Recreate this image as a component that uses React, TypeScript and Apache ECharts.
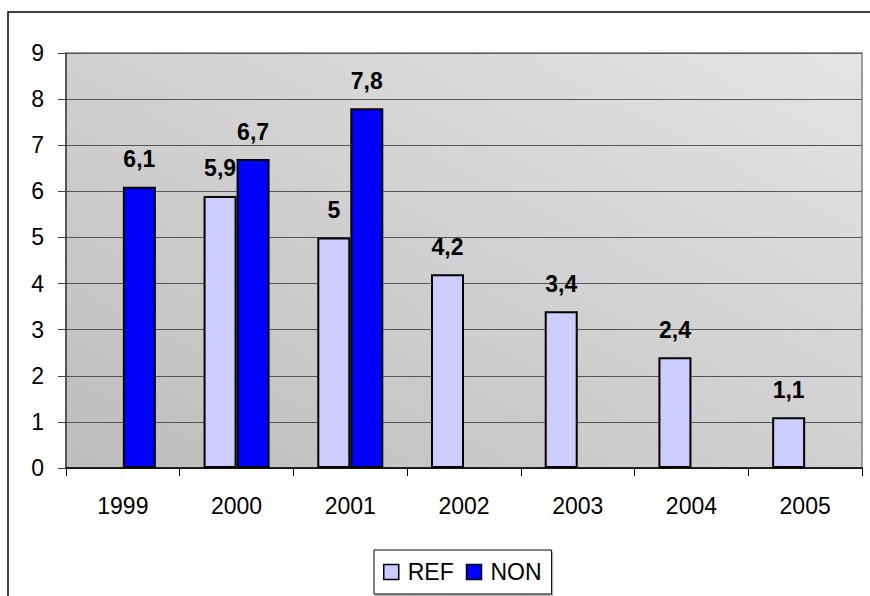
import React, { useEffect, useRef } from "react";
import * as echarts from "echarts";

const categories = ["1999", "2000", "2001", "2002", "2003", "2004", "2005"];
const refValues = [null, 5.9, 5, 4.2, 3.4, 2.4, 1.1];
const nonValues = [6.1, 6.7, 7.8, null, null, null, null];
const yMin = 0;
const yMax = 9;
const yInterval = 1;

const fmt = (v: any) => String(v).replace(".", ",");

export default function App() {
  const ref = useRef<HTMLDivElement>(null);
  useEffect(() => {
    const chart = echarts.init(ref.current!, null, { renderer: "svg" });
    const font = "Arial, 'Liberation Sans', sans-serif";
    const labelCfg = {
      show: true,
      position: "top",
      distance: 16,
      fontFamily: font,
      fontSize: 23,
      fontWeight: "bold",
      color: "#000",
      formatter: (p: any) => fmt(p.value),
    };
    chart.setOption({
      animation: false,
      graphic: [
        {
          type: "rect",
          shape: { x: 8, y: 12, width: 900, height: 700 },
          style: { fill: "#fff", stroke: "#000", lineWidth: 1.5 },
          z: -10,
          silent: true,
        },
      ],
      grid: {
        left: 66,
        top: 53,
        right: 8,
        bottom: 128,
        show: true,
        borderColor: "#808080",
        borderWidth: 1.5,
        backgroundColor: new echarts.graphic.LinearGradient(0, 1, 1, 0, [
          { offset: 0, color: "#bdbdbd" },
          { offset: 1, color: "#e4e4e4" },
        ]),
      },
      legend: {
        data: ["REF", "NON"],
        left: 374,
        top: 550,
        padding: [10, 10, 10, 9],
        itemGap: 12,
        itemWidth: 15,
        itemHeight: 15,
        icon: "rect",
        borderColor: "#000",
        borderWidth: 1,
        backgroundColor: "#fff",
        shadowColor: "rgba(0,0,0,0.25)",
        shadowOffsetX: 1,
        shadowOffsetY: 2,
        itemStyle: { borderColor: "#000", borderWidth: 1.5 },
        textStyle: { fontFamily: font, fontSize: 23, lineHeight: 24, color: "#000", padding: [0, 0, 0, 4] },
      },
      xAxis: {
        type: "category",
        data: categories,
        axisLine: { lineStyle: { color: "#000", width: 1.5 } },
        axisTick: { show: true, length: 8, alignWithLabel: false, lineStyle: { color: "#000" } },
        axisLabel: { fontFamily: font, fontSize: 23, color: "#000", margin: 26 },
      },
      yAxis: {
        type: "value",
        min: yMin,
        max: yMax,
        interval: yInterval,
        axisLine: { show: true, lineStyle: { color: "#404040", width: 1.5 } },
        axisTick: { show: true, length: 8, lineStyle: { color: "#404040" } },
        axisLabel: { fontFamily: font, fontSize: 23, color: "#000", margin: 22 },
        splitLine: { lineStyle: { color: "#555", width: 1 } },
      },
      series: [
        {
          name: "REF",
          type: "bar",
          data: refValues,
          barWidth: 33,
          barGap: "0%",
          itemStyle: { color: "#ccccff", borderColor: "#000", borderWidth: 2 },
          label: labelCfg,
        },
        {
          name: "NON",
          type: "bar",
          data: nonValues,
          barWidth: 33,
          barGap: "0%",
          itemStyle: { color: "#0000ff", borderColor: "#000", borderWidth: 2 },
          label: labelCfg,
        },
      ],
    });
    return () => chart.dispose();
  }, []);
  return (
    <div
      ref={ref}
      style={{ position: "absolute", left: 0, top: 0, width: 870, height: 596 }}
    />
  );
}
